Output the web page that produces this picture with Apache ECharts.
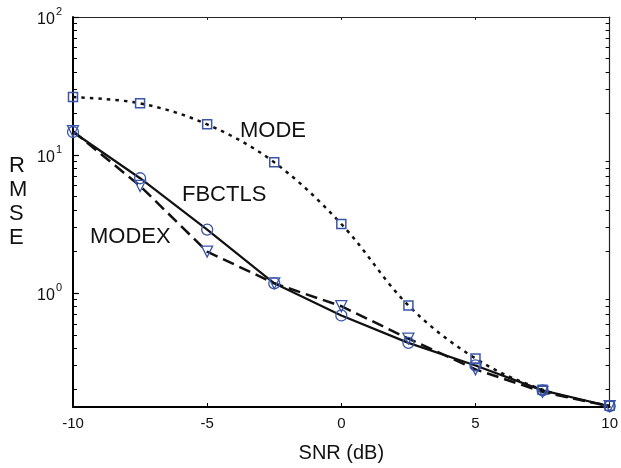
<!DOCTYPE html>
<html>
<head>
<meta charset="utf-8">
<script src="https://cdn.jsdelivr.net/npm/echarts@6/dist/echarts.min.js"></script>
<style>html,body{margin:0;padding:0;background:#fff}#c{width:621px;height:468px}</style>
</head>
<body>
<div id="c"></div>
<script>
var snr = [-10, -7.5, -5, -2.5, 0, 2.5, 5, 7.5, 10];
var mode = [26.3, 23.7, 16.7, 8.86, 3.17, 0.815, 0.337, 0.20, 0.153];
var fbctls = [14.7, 6.8, 2.89, 1.18, 0.69, 0.437, 0.30, 0.198, 0.152];
var modex = [14.9, 5.98, 2.0, 1.18, 0.805, 0.469, 0.281, 0.193, 0.152];
var yMajor = [1, 10, 100];
var yMinor = [0.2,0.3,0.4,0.5,0.6,0.7,0.8,0.9,2,3,4,5,6,7,8,9,20,30,40,50,60,70,80,90];
var xTicks = [-10, -5, 0, 5, 10];

var FONT = 'Liberation Sans';
var BLUE = '#3a55a8';
function pairs(ys){ return snr.map(function(x,i){ return [x, ys[i]]; }); }

var chart = echarts.init(document.getElementById('c'), null, {renderer:'canvas'});
function yAx(extra){
  return Object.assign({
    type:'log', logBase:10, min:0.15, max:100,
    axisLine:{show:true, onZero:false, lineStyle:{color:'#000', width:2}},
    axisTick:{show:true, inside:true, length:4, customValues:yMinor, lineStyle:{color:'#000', width:1}},
    axisLabel:{show:false},
    splitLine:{show:false}, minorTick:{show:false}
  }, extra);
}
function xAx(extra){
  return Object.assign({
    type:'value', min:-10, max:10, interval:5,
    axisLine:{show:true, onZero:false, lineStyle:{color:'#000', width:2}},
    axisTick:{show:true, inside:true, length:4, customValues:[-5,0,5], lineStyle:{color:'#000', width:1}},
    axisLabel:{show:false},
    splitLine:{show:false}
  }, extra);
}
var option = {
  animation:false,
  grid:{left:73, right:9, top:17, bottom:59, containLabel:false},
  xAxis:[
    xAx({
      position:'bottom',
      name:'SNR (dB)', nameLocation:'middle', nameGap:36,
      nameTextStyle:{fontFamily:FONT, fontSize:20, color:'#111'},
      axisLabel:{show:true, margin:9, fontFamily:FONT, fontSize:15, color:'#111', customValues:xTicks}
    }),
    xAx({position:'top', axisLine:{show:true, onZero:false, lineStyle:{color:'#222', width:1.2}},
         axisTick:{show:true, inside:true, length:3, customValues:[-5,0,5], lineStyle:{color:'#222', width:1}}})
  ],
  yAxis:[
    yAx({position:'left'}),
    yAx({position:'right', axisLine:{show:true, onZero:false, lineStyle:{color:'#222', width:1.2}}}),
    yAx({
      position:'left',
      axisLine:{show:false, onZero:false},
      axisTick:{show:true, inside:true, length:6, customValues:yMajor, lineStyle:{color:'#000', width:1.2}},
      axisLabel:{show:true, customValues:yMajor, margin:11,
        formatter:function(v){ var e = Math.round(Math.log10(v)); return '{b|10}{s|' + e + '}'; },
        rich:{
          b:{fontFamily:FONT, fontSize:16, color:'#111', verticalAlign:'bottom'},
          s:{fontFamily:FONT, fontSize:11, color:'#111', verticalAlign:'bottom', padding:[0,0,10,1]}
        }
      }
    })
  ],
  series:[
    {
      name:'MODE', type:'line', data:pairs(mode), smooth:0.35, clip:false,
      symbol:'rect', symbolSize:9,
      lineStyle:{color:'#111', width:2.5, type:[3.5,5]},
      itemStyle:{color:'rgba(255,255,255,0)', borderColor:BLUE, borderWidth:1.5}, z:3
    },
    {
      name:'FBCTLS', type:'line', data:pairs(fbctls), smooth:false, clip:false,
      symbol:'circle', symbolSize:11,
      lineStyle:{color:'#111', width:2.2},
      itemStyle:{color:'rgba(255,255,255,0)', borderColor:BLUE, borderWidth:1.3}, z:3
    },
    {
      name:'MODEX', type:'line', data:pairs(modex), smooth:false, clip:false,
      symbol:'triangle', symbolRotate:180, symbolSize:11,
      lineStyle:{color:'#111', width:2.5, type:[12,6]},
      itemStyle:{color:'rgba(255,255,255,0)', borderColor:BLUE, borderWidth:1.3}, z:3
    }
  ],
  graphic:[
    {type:'text', left:240, top:120, style:{text:'MODE', font:'22px "Liberation Sans"', fill:'#111'}},
    {type:'text', left:182, top:184, style:{text:'FBCTLS', font:'22px "Liberation Sans"', fill:'#111'}},
    {type:'text', left:90, top:226, style:{text:'MODEX', font:'22px "Liberation Sans"', fill:'#111'}},
    {type:'text', left:9, top:154, style:{text:'R\nM\nS\nE', font:'22px "Liberation Sans"', lineHeight:24, fill:'#111', align:'center'}}
  ]
};
chart.setOption(option);
</script>
</body>
</html>
